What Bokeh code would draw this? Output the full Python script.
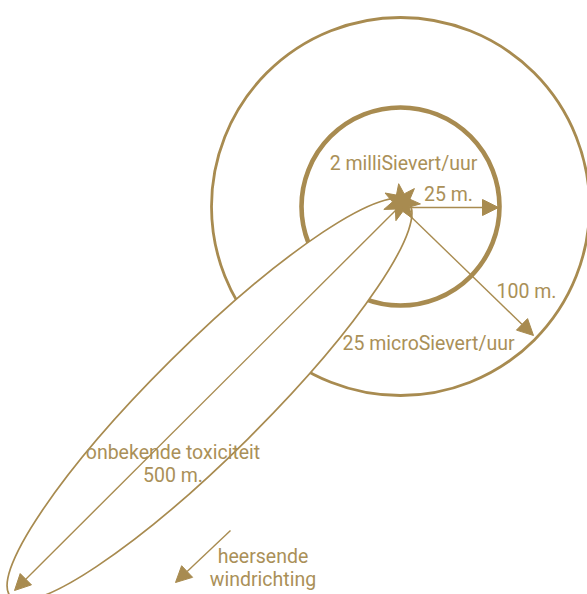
import numpy as np
from bokeh.plotting import figure
from bokeh.models import Range1d, Arrow, NormalHead
from bokeh.core.properties import value
from bokeh.embed import file_html
from bokeh.resources import INLINE

GOLD = "#a88b50"
TEXT_GOLD = "#aa9058"

# zones (pixel-scaled diagram units, y up)
zone_center = (400, 388)
zone_radii = [189, 99]          # 25 microSievert/uur, 2 milliSievert/uur
zone_widths = [2.8, 4.6]

# plume ellipse (onbekende toxiciteit)
plume_x, plume_y = 209, 195
plume_len, plume_wid = 560, 110
plume_angle_deg = 44.8

# arrows: (x_start, y_start, x_end, y_end)
arrow_starts_x = [400, 402, 404, 230]
arrow_starts_y = [389, 387, 384, 64]
arrow_ends_x = [14, 498, 533, 175]
arrow_ends_y = [4, 387, 259, 12]

# source star
star_x, star_y = 401, 392
star_points, star_r_out, star_r_in = 7, 19, 9

# labels
labels = ["2 milliSievert/uur", "25 m.", "100 m.", "25 microSievert/uur",
          "onbekende toxiciteit", "500 m.", "heersende", "windrichting"]
label_x = [403, 448, 526, 428, 172.5, 172.5, 262.5, 262.5]
label_y = [431, 400, 303, 251, 142, 119, 38, 15]

W, H = 587, 594
p = figure(width=W, height=H, output_backend="svg", toolbar_location=None,
           x_range=Range1d(0, W), y_range=Range1d(0, H),
           min_border=0, x_axis_location=None, y_axis_location=None)
p.grid.visible = False
p.outline_line_color = None
p.background_fill_color = "white"

for r, lw in zip(zone_radii, zone_widths):
    p.circle(x=[zone_center[0]], y=[zone_center[1]], radius=r,
             fill_color=None, line_color=GOLD, line_width=lw)

p.ellipse(x=[plume_x], y=[plume_y], width=plume_len, height=plume_wid,
          angle=np.deg2rad(plume_angle_deg), fill_color="white",
          line_color=GOLD, line_width=1.7)

for xs, ys, xe, ye in zip(arrow_starts_x, arrow_starts_y, arrow_ends_x, arrow_ends_y):
    p.add_layout(Arrow(x_start=xs, y_start=ys, x_end=xe, y_end=ye,
                       line_color=GOLD, line_width=1.4,
                       end=NormalHead(size=16, fill_color=GOLD, line_color=GOLD, line_width=1)))

t = np.linspace(0, 2 * np.pi, 2 * star_points, endpoint=False) + np.pi / 2 + 0.15
rr = np.where(np.arange(2 * star_points) % 2 == 0, star_r_out, star_r_in)
p.patch(star_x + rr * np.cos(t), star_y + rr * np.sin(t),
        fill_color=GOLD, line_color=GOLD)

p.text(x=label_x, y=label_y, text=labels, text_align="center",
       text_baseline="alphabetic", text_color=TEXT_GOLD,
       text_font=value("Roboto"), text_font_size="19.5px")

open("out.html", "w").write(file_html(p, INLINE))
